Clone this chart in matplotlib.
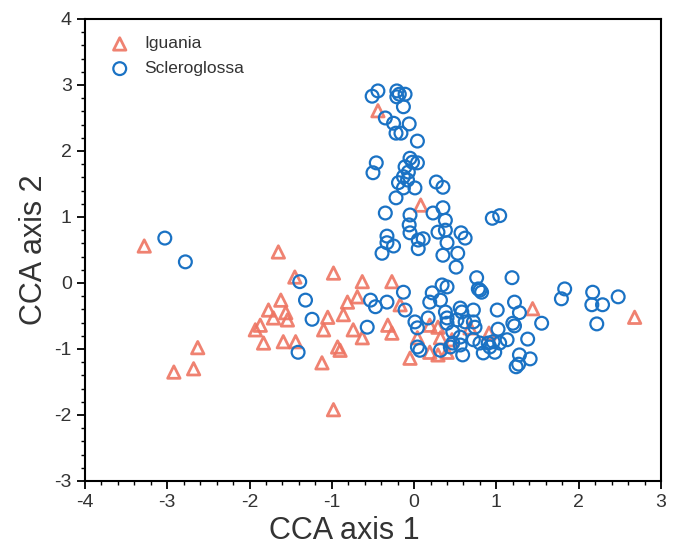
import matplotlib.pyplot as plt
from matplotlib.ticker import MultipleLocator

plt.rcParams['font.family'] = ['Liberation Sans', 'DejaVu Sans']
plt.rcParams['axes.unicode_minus'] = False

# Iguania (triangles)
igu_x = [-3.28, -2.92, -2.68, -2.63, -1.65, -1.45, -0.98, -0.63, -0.27, -0.69,
         -0.81, -1.62, -1.77, -1.56, -1.54, -1.71, -1.87, -1.93, -1.83, -1.59,
         -1.44, -1.05, -1.10, -0.86, -0.74, -0.63, -0.93, -0.90, -1.12, -0.98,
         -0.32, -0.27, -0.17, -0.05, 0.04, 0.19, -0.44, 0.08, 1.44, 2.68,
         0.91, 0.29, 0.68, 0.32, 0.46, 0.19, 0.29, 0.40]
igu_y = [0.56, -1.35, -1.30, -0.98, 0.47, 0.09, 0.15, 0.02, 0.02, -0.21,
         -0.29, -0.26, -0.41, -0.45, -0.56, -0.53, -0.64, -0.71, -0.91, -0.89,
         -0.89, -0.52, -0.71, -0.48, -0.71, -0.83, -0.97, -1.02, -1.21, -1.92,
         -0.64, -0.76, -0.33, -1.14, -0.83, -0.64, 2.61, 1.18, -0.39, -0.52,
         -0.76, -0.67, -0.68, -0.83, -0.86, -1.05, -1.09, -1.05]

# Scleroglossa (circles)
scl_x = [-3.03, -2.78, -1.39, -1.32, -1.24, -1.41, -0.57, -0.53, -0.47, -0.33,
         -0.13, -0.11, 0.01, 0.04, 0.17, 0.22, 0.19, 0.32, 0.34, 0.40,
         0.04, 0.07,
         -0.51, -0.44, -0.21, -0.18, -0.11, -0.21, -0.13, -0.35, -0.25, -0.06,
         -0.22, -0.16, 0.04, -0.46, -0.50, -0.05, -0.02, 0.04, -0.11, -0.07,
         -0.13, -0.19, -0.08, 0.01, -0.13, -0.22, 0.27, 0.35, -0.35, -0.05,
         0.23, 0.35, 0.38, -0.06, -0.05, 0.29, 0.38, 0.57, 0.62, -0.33,
         -0.33, -0.25, -0.39, 0.05, 0.11, 0.05, 0.40, 0.35, 0.53, 0.51,
         0.95, 1.04,
         0.76, 0.80, 0.82, 0.78, 1.19, 1.83, 1.79, 2.17, 2.16, 2.29,
         2.48, 2.22, 1.22, 1.28, 1.01, 1.20, 1.22, 1.55, 1.38, 1.02,
         1.13, 1.04, 0.96, 0.90, 0.84, 0.98, 1.28, 1.41, 1.27, 1.24,
         0.38, 0.56, 0.58, 0.72, 0.40, 0.40, 0.52, 0.62, 0.72, 0.74,
         0.56, 0.47, 0.56, 0.59, 0.80, 0.72, 0.92, 0.32, 0.44, 0.47]
scl_y = [0.68, 0.32, 0.02, -0.26, -0.55, -1.05, -0.67, -0.26, -0.36, -0.29,
         -0.14, -0.41, -0.59, -0.68, -0.53, -0.15, -0.29, -0.26, -0.03, -0.06,
         -0.97, -1.02,
         2.83, 2.91, 2.91, 2.86, 2.86, 2.82, 2.67, 2.50, 2.42, 2.41,
         2.27, 2.27, 2.15, 1.82, 1.67, 1.89, 1.83, 1.82, 1.76, 1.68,
         1.61, 1.52, 1.56, 1.44, 1.44, 1.29, 1.53, 1.45, 1.06, 1.03,
         1.06, 1.14, 0.95, 0.88, 0.76, 0.77, 0.80, 0.76, 0.68, 0.71,
         0.61, 0.56, 0.45, 0.65, 0.67, 0.52, 0.61, 0.42, 0.45, 0.24,
         0.98, 1.02,
         0.08, -0.11, -0.14, -0.09, 0.08, -0.09, -0.24, -0.14, -0.33, -0.33,
         -0.21, -0.62, -0.29, -0.45, -0.41, -0.61, -0.65, -0.61, -0.85, -0.70,
         -0.86, -0.91, -0.89, -0.91, -1.06, -1.05, -1.09, -1.15, -1.23, -1.27,
         -0.44, -0.38, -0.44, -0.41, -0.53, -0.61, -0.56, -0.59, -0.59, -0.67,
         -0.82, -0.91, -0.94, -1.09, -0.91, -0.86, -0.97, -1.02, -0.97, -0.74]

igu_color = '#EE7462'
scl_color = '#1A72C4'
text_color = '#333333'

fig = plt.figure(figsize=(6.8, 5.5), dpi=100)
ax = fig.add_axes([0.125, 0.1255, 0.847, 0.84])

ax.scatter(igu_x, igu_y, marker='^', s=80, facecolors='none',
           edgecolors=igu_color, linewidths=2.0, label='Iguania', alpha=0.9)
ax.scatter(scl_x, scl_y, marker='o', s=85, facecolors='none',
           edgecolors=scl_color, linewidths=1.6, label='Scleroglossa')

ax.set_xlim(-4, 3)
ax.set_ylim(-3, 4)
ax.xaxis.set_major_locator(MultipleLocator(1))
ax.yaxis.set_major_locator(MultipleLocator(1))
ax.xaxis.set_minor_locator(MultipleLocator(0.2))
ax.yaxis.set_minor_locator(MultipleLocator(0.2))
ax.tick_params(which='major', direction='out', length=6, width=1.3,
               labelsize=14, labelcolor=text_color)
ax.tick_params(which='minor', direction='out', length=3, width=1.0)
for sp in ax.spines.values():
    sp.set_linewidth(1.5)

ax.set_xlabel('CCA axis 1', fontsize=22, color=text_color, labelpad=3)
ax.xaxis.set_label_coords(0.451, -0.075)
ax.set_ylabel('CCA axis 2', fontsize=22, color=text_color, labelpad=4)

leg = ax.legend(loc='upper left', frameon=False, fontsize=12.5,
                handletextpad=0.4, borderaxespad=0.6, labelspacing=0.55,
                scatterpoints=1)
for t in leg.get_texts():
    t.set_color(text_color)

fig.savefig('out.png', dpi=100)
